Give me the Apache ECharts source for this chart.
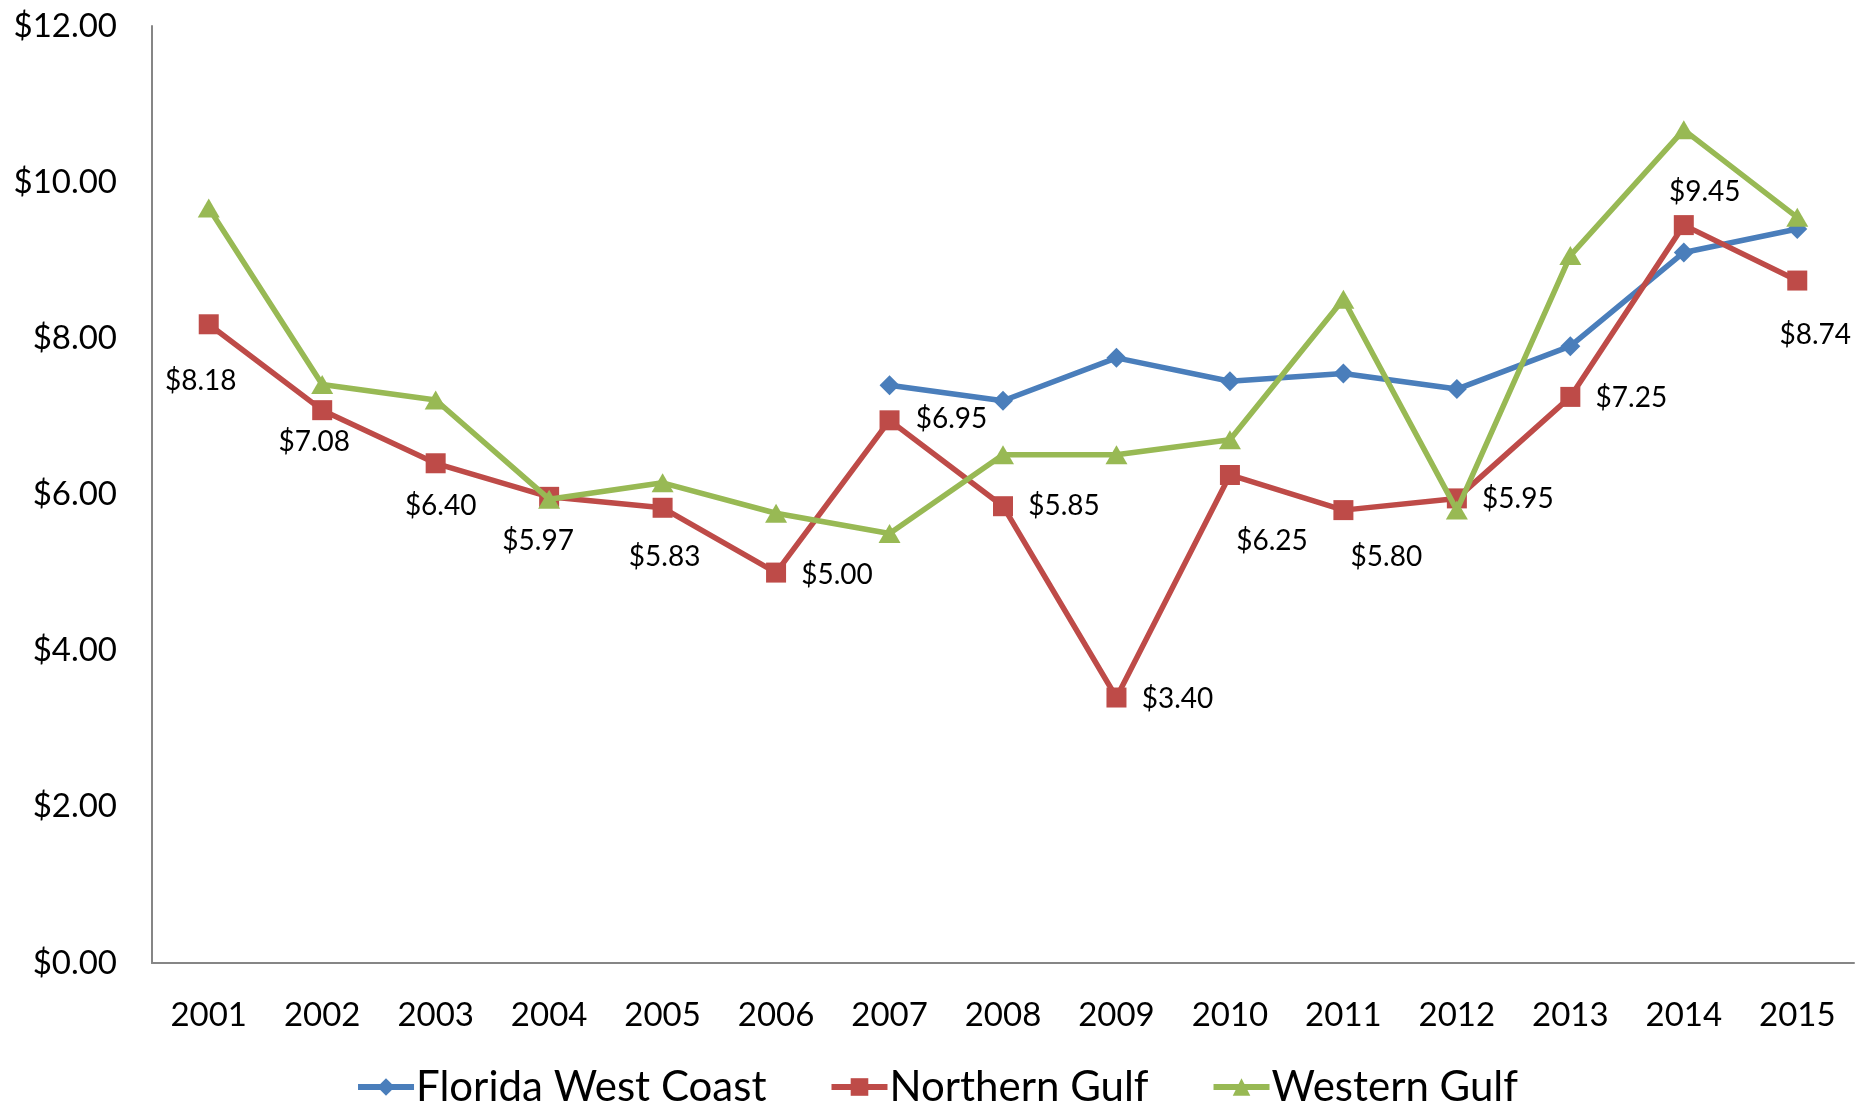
<!DOCTYPE html>
<html>
<head>
<meta charset="utf-8">
<script src="https://cdn.jsdelivr.net/npm/echarts@6/dist/echarts.min.js"></script>
<style>
html,body{margin:0;padding:0;background:#fff;}
#chart{width:1873px;height:1106px;}
</style>
</head>
<body>
<div id="chart"></div>
<script>
var years = ['2001','2002','2003','2004','2005','2006','2007','2008','2009','2010','2011','2012','2013','2014','2015'];
var floridaWestCoast = [null,null,null,null,null,null,7.40,7.20,7.75,7.45,7.55,7.35,7.90,9.10,9.40];
var northernGulf = [8.18,7.08,6.40,5.97,5.83,5.00,6.95,5.85,3.40,6.25,5.80,5.95,7.25,9.45,8.74];
var westernGulf = [9.67,7.41,7.21,5.94,6.15,5.76,5.50,6.51,6.51,6.70,8.50,5.80,9.06,10.67,9.55];
var yTicks = {min:0, max:12, interval:2};

// label placement (style only)
var ngLabelOffsets = [[-8,57],[-8,32],[5,43],[-11,44],[2,49],[61,2],[62,-1],[61,0],[61,1],[42,66],[43,47],[61,1],[61,1],[21,-33],[18,54]];

var FONT = 'Lato';
var chart = echarts.init(document.getElementById('chart'), null, {renderer:'canvas'});

var ngData = northernGulf.map(function(v,i){
  return {
    value: v,
    label: {
      show: true,
      position: 'inside',
      align: 'center',
      verticalAlign: 'middle',
      offset: ngLabelOffsets[i],
      formatter: function(p){ return '$' + p.value.toFixed(2); },
      color: '#000',
      fontFamily: FONT,
      fontSize: 28
    }
  };
});

var option = {
  animation: false,
  backgroundColor: '#fff',
  textStyle: {fontFamily: FONT},
  grid: {left:152, right:19, top:26, bottom:143, containLabel:false},
  legend: {
    top: 1061,
    left: 'center',
    itemWidth: 56,
    itemHeight: 22,
    itemGap: 62,
    lineStyle: {width: 6},
    textStyle: {fontFamily: FONT, fontSize: 42, color: '#000', padding:[0,0,0,-3]},
    data: ['Florida West Coast','Northern Gulf','Western Gulf']
  },
  xAxis: {
    type: 'category',
    data: years,
    boundaryGap: true,
    axisLine: {lineStyle: {color: '#868686', width: 2}},
    axisTick: {show: false},
    axisLabel: {color: '#000', fontFamily: FONT, fontSize: 33, margin: 36},
    splitLine: {show: false}
  },
  yAxis: {
    type: 'value',
    min: yTicks.min,
    max: yTicks.max,
    interval: yTicks.interval,
    axisLine: {show: true, lineStyle: {color: '#868686', width: 2}},
    axisTick: {show: false},
    splitLine: {show: false},
    axisLabel: {
      color: '#000', fontFamily: FONT, fontSize: 33, margin: 35,
      formatter: function(v){ return '$' + v.toFixed(2); }
    }
  },
  series: [
    {
      name: 'Florida West Coast',
      type: 'line',
      data: floridaWestCoast,
      connectNulls: false,
      symbol: 'diamond',
      symbolSize: 20,
      color: '#4A7EBB',
      lineStyle: {width: 5.5, color: '#4A7EBB'},
      itemStyle: {color: '#4A7EBB'},
      z: 2
    },
    {
      name: 'Northern Gulf',
      type: 'line',
      data: ngData,
      symbol: 'rect',
      symbolSize: 20,
      color: '#BE4B48',
      lineStyle: {width: 5.5, color: '#BE4B48'},
      itemStyle: {color: '#BE4B48'},
      z: 3
    },
    {
      name: 'Western Gulf',
      type: 'line',
      data: westernGulf,
      symbol: 'triangle',
      symbolSize: [22, 19],
      color: '#98B954',
      lineStyle: {width: 5.5, color: '#98B954'},
      itemStyle: {color: '#98B954'},
      z: 4
    }
  ]
};
chart.setOption(option);
</script>
</body>
</html>
